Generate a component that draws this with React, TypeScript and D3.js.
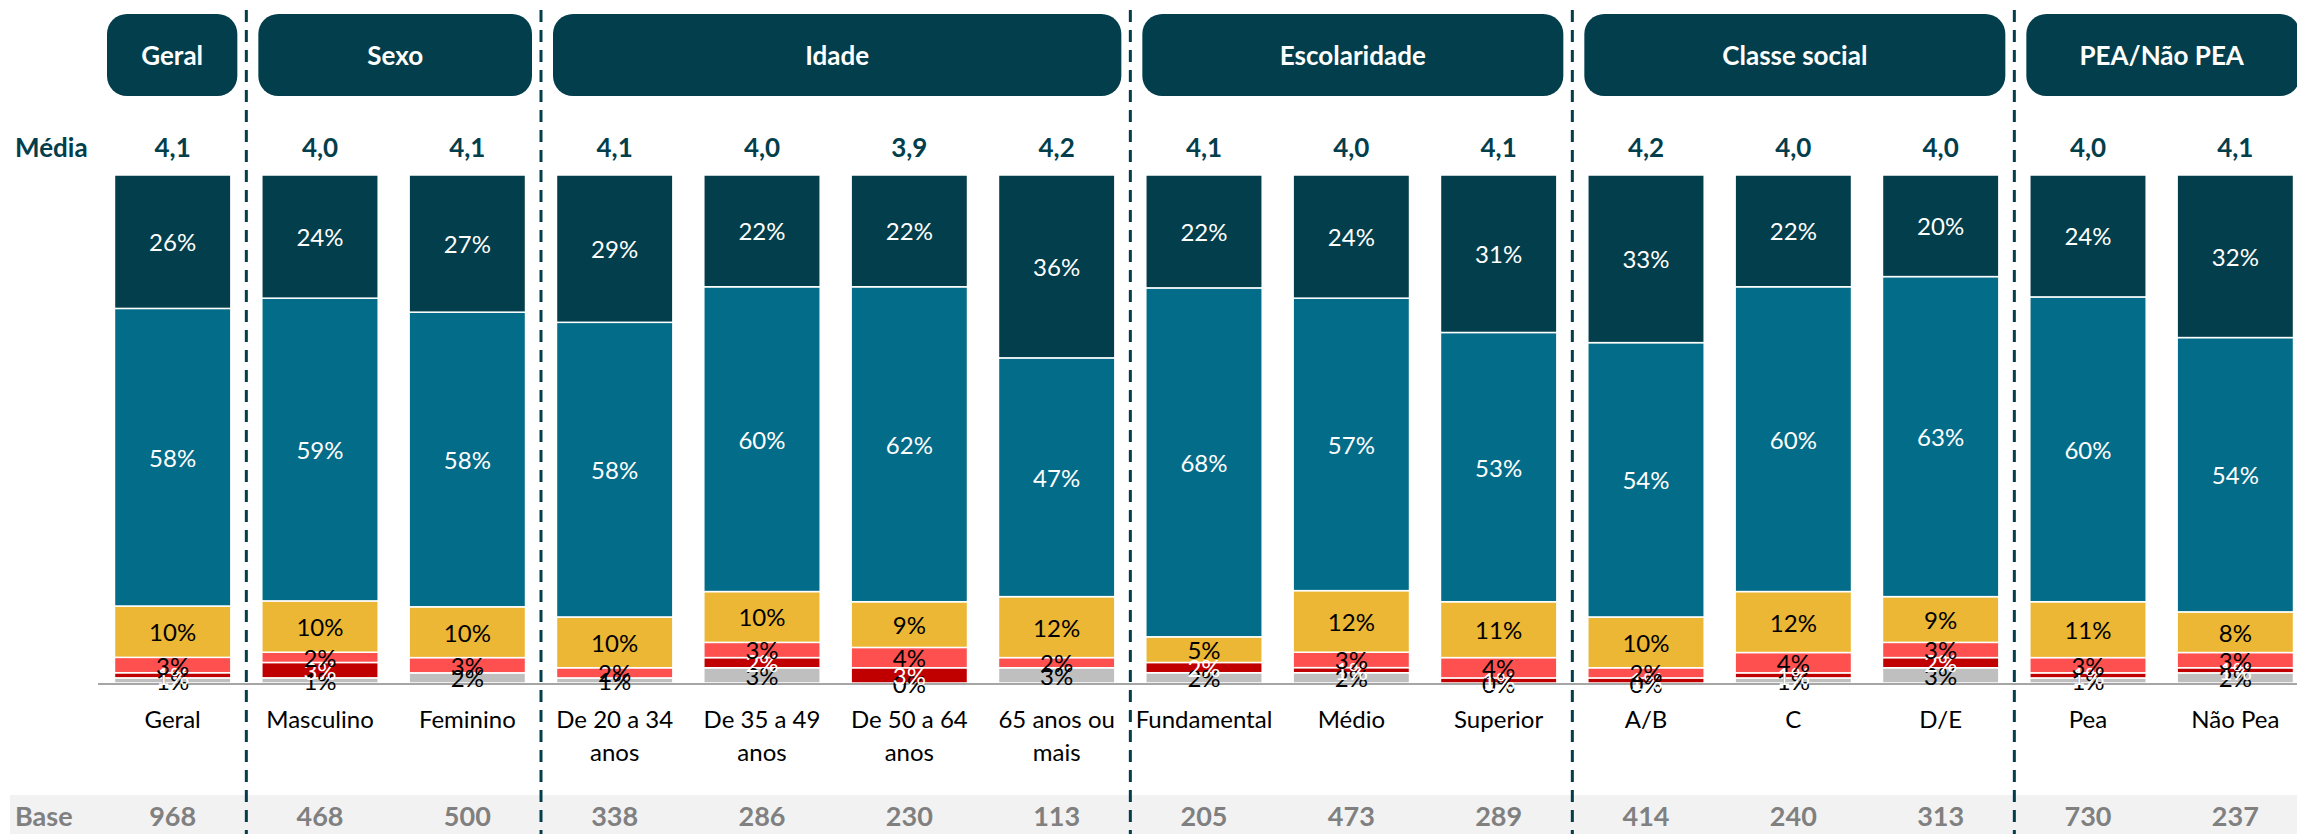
import React from 'react';
import * as d3 from 'd3';

const W = 2297;
const H = 834;

const categories = [
  'Geral', 'Masculino', 'Feminino', 'De 20 a 34\nanos', 'De 35 a 49\nanos', 'De 50 a 64\nanos',
  '65 anos ou\nmais', 'Fundamental', 'Médio', 'Superior', 'A/B', 'C', 'D/E', 'Pea', 'Não Pea',
];
const groups = [
  { name: 'Geral', size: 1 },
  { name: 'Sexo', size: 2 },
  { name: 'Idade', size: 4 },
  { name: 'Escolaridade', size: 3 },
  { name: 'Classe social', size: 3 },
  { name: 'PEA/Não PEA', size: 2 },
];
const medias = ['4,1', '4,0', '4,1', '4,1', '4,0', '3,9', '4,2', '4,1', '4,0', '4,1', '4,2', '4,0', '4,0', '4,0', '4,1'];
const bases = [968, 468, 500, 338, 286, 230, 113, 205, 473, 289, 414, 240, 313, 730, 237];

// bottom to top
const nsnr = [1, 1, 2, 1, 3, 0, 3, 2, 2, 0, 0, 1, 3, 1, 2];
const pessimo = [1, 3, 0, 0, 2, 3, 0, 2, 1, 1, 1, 1, 2, 1, 1];
const ruim = [3, 2, 3, 2, 3, 4, 2, 0, 3, 4, 2, 4, 3, 3, 3];
const regular = [10, 10, 10, 10, 10, 9, 12, 5, 12, 11, 10, 12, 9, 11, 8];
const bom = [58, 59, 58, 58, 60, 62, 47, 68, 57, 53, 54, 60, 63, 60, 54];
const otimo = [26, 24, 27, 29, 22, 22, 36, 22, 24, 31, 33, 22, 20, 24, 32];

const seriesKeys = ['nsnr', 'pessimo', 'ruim', 'regular', 'bom', 'otimo'];
const seriesValues = { nsnr, pessimo, ruim, regular, bom, otimo };
const fills = { nsnr: '#bfbfbf', pessimo: '#c00000', ruim: '#ff5050', regular: '#ebb734', bom: '#036c89', otimo: '#023e4b' };
const labelColors = { nsnr: '#000', pessimo: '#fff', ruim: '#000', regular: '#000', bom: '#fff', otimo: '#fff' };

const DARK = '#023e4b';
const FONT = 'Lato, "Open Sans", sans-serif';

export default function App() {
  const rows = categories.map((c, i) => {
    const r: any = { cat: c };
    seriesKeys.forEach(k => { r[k] = seriesValues[k][i]; });
    return r;
  });

  const stacked = d3.stack().keys(seriesKeys).offset(d3.stackOffsetExpand)(rows);

  const x = d3.scaleBand()
    .domain(categories)
    .range([99, 2309])
    .paddingInner(0.21)
    .paddingOuter(0.105);
  const y = d3.scaleLinear().domain([0, 1]).range([683, 175]);

  const step = x.step();
  const bw = x.bandwidth();
  const boundary = (i: number) => x(categories[i])! - step * 0.105;

  // group extents
  let idx = 0;
  const groupBoxes = groups.map((g, gi) => {
    const start = boundary(idx);
    const end = boundary(idx) + step * g.size;
    idx += g.size;
    return { ...g, start, end, first: gi === 0 };
  });
  const dividers = groupBoxes.slice(0, -1).map(g => g.end);

  return (
    <svg width={W} height={H} style={{ position: 'absolute', left: 0, top: 0, background: '#fff' }} fontFamily={FONT}>
      {/* base row background */}
      <rect x={10} y={795} width={W - 10} height={H - 795} fill="#f2f2f2" />

      {/* group headers */}
      {groupBoxes.map(g => {
        const left = g.start + (g.first ? 8 : 12);
        const right = g.end - 9;
        return (
          <g key={g.name}>
            <rect x={left} y={14} width={right - left} height={82} rx={20} ry={20} fill={DARK} />
            <text x={(left + Math.min(right, W)) / 2} y={65} textAnchor="middle" fill="#fff"
              fontSize={26} fontWeight={700}>{g.name}</text>
          </g>
        );
      })}

      {/* média row */}
      <text x={15} y={157} fontSize={26} fontWeight={700} fill={DARK}>Média</text>
      {medias.map((m, i) => (
        <text key={i} x={x(categories[i])! + bw / 2} y={157} textAnchor="middle" fontSize={26}
          fontWeight={700} fill={DARK}>{m}</text>
      ))}

      {/* stacked bars */}
      {stacked.map(s => (
        <g key={s.key}>
          {s.map((d, i) => (
            <rect key={i} x={x(categories[i])!} y={y(d[1])} width={bw}
              height={Math.max(0, y(d[0]) - y(d[1]))} fill={fills[s.key]} stroke="#fff" strokeWidth={1.5} />
          ))}
        </g>
      ))}

      {/* axis line */}
      <line x1={98} x2={W} y1={684} y2={684} stroke="#a6a6a6" strokeWidth={2} />

      {/* segment labels */}
      {stacked.map(s => (
        <g key={'l' + s.key}>
          {s.map((d, i) => {
            const v = seriesValues[s.key][i];
            if (v === 0 && s.key !== 'nsnr') return null;
            return (
              <text key={i} x={x(categories[i])! + bw / 2} y={(y(d[0]) + y(d[1])) / 2}
                dominantBaseline="central" textAnchor="middle" fontSize={24}
                fill={labelColors[s.key]}>{v}%</text>
            );
          })}
        </g>
      ))}

      {/* category labels */}
      {categories.map((c, i) => (
        <text key={c} x={x(c)! + bw / 2} y={728} textAnchor="middle" fontSize={24} fill="#000">
          {c.split('\n').map((line, li) => (
            <tspan key={li} x={x(c)! + bw / 2} dy={li === 0 ? 0 : 33}>{line}</tspan>
          ))}
        </text>
      ))}

      {/* base row */}
      <text x={15} y={826} fontSize={27} fontWeight={700} fill="#808080">Base</text>
      {bases.map((b, i) => (
        <text key={i} x={x(categories[i])! + bw / 2} y={826} textAnchor="middle" fontSize={27}
          fontWeight={700} fill="#808080">{b}</text>
      ))}

      {/* dashed group dividers */}
      {dividers.map((dx, i) => (
        <line key={i} x1={dx} x2={dx} y1={10} y2={H} stroke={DARK} strokeWidth={3} strokeDasharray="12 8" />
      ))}
    </svg>
  );
}
